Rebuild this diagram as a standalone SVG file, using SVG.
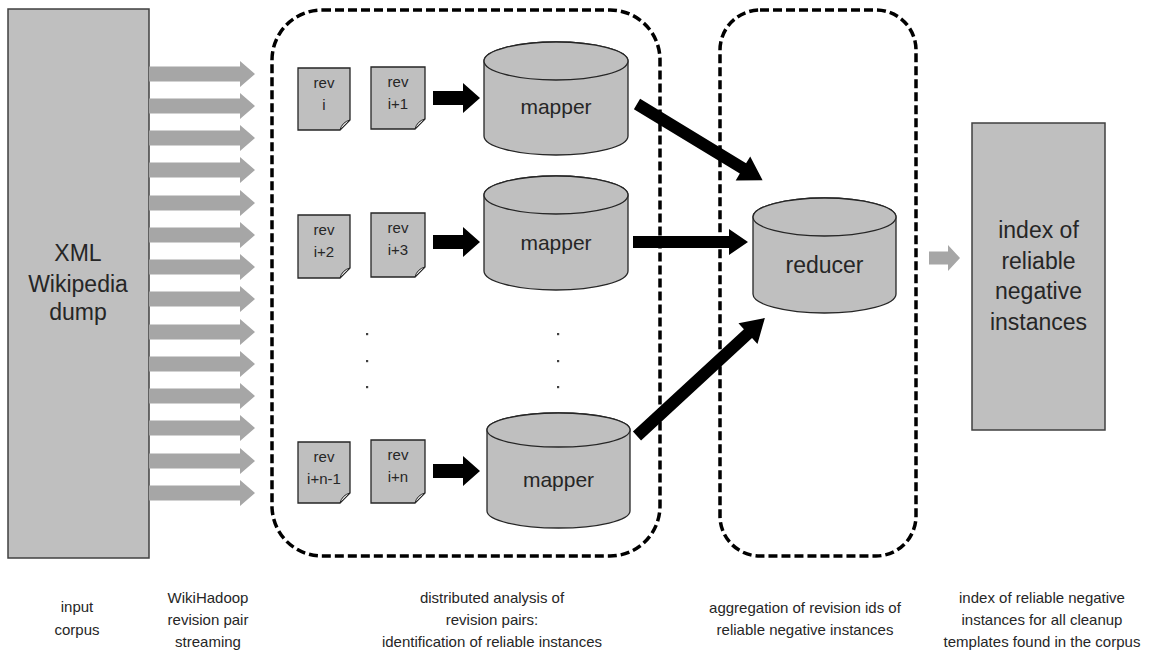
<svg xmlns="http://www.w3.org/2000/svg" width="1165" height="655" viewBox="0 0 1165 655">
  <style>
    text { font-family: "Liberation Sans", Arial, sans-serif; fill: #262626; text-anchor: middle; }
    .box { fill: #bfbfbf; stroke: #404040; stroke-width: 1.5; }
    .cyl { fill: #bfbfbf; stroke: #262626; stroke-width: 1.3; }
    .doc { fill: #bfbfbf; stroke: #262626; stroke-width: 1.3; }
    .fold { fill: #d9d9d9; stroke: #262626; stroke-width: 1; }
    .frame { fill: none; stroke: #000; stroke-width: 3.5; stroke-dasharray: 9 4; }
    .stream { fill: #a6a6a6; }
    .flow { fill: #000; }
    .big { font-size: 23px; }
    .cap { font-size: 21px; }
    .small { font-size: 15px; }
    .label { font-size: 15px; }
  </style>
  <defs>
    <!-- thick gray streaming arrow, origin at shaft start, centred on y=0 -->
    <path id="streamArrow" class="stream" d="M0,-7.5 H91 V-13 L106,0 L91,13 V7.5 H0 Z"/>
    <!-- block arrow from revision pair into mapper -->
    <path id="blockArrow" class="flow" d="M0,-7 H30 V-15 L47,0 L30,15 V7 H0 Z"/>
  </defs>

  <!-- dashed stage frames -->
  <g id="frames">
    <rect id="map-stage" class="frame" x="272" y="10" width="388" height="546" rx="50" ry="50"/>
    <rect id="reduce-stage" class="frame" x="720" y="10" width="196" height="546" rx="40" ry="40"/>
  </g>

  <!-- input corpus -->
  <g id="xml-dump">
    <rect class="box" x="8" y="9" width="141" height="549"/>
    <text class="big" x="78" y="261">XML</text>
    <text class="big" x="78" y="292">Wikipedia</text>
    <text class="big" x="78" y="320">dump</text>
  </g>

  <!-- revision documents -->
  <g id="rev-i">
    <path class="doc" d="M298,68 H350 V120 L340,130 H298 Z"/>
    <path class="fold" d="M350,120 L340,130 Q342,122 350,120 Z"/>
    <text class="small" x="324" y="88">rev</text>
    <text class="small" x="324" y="110">i</text>
  </g>
  <g id="rev-i1">
    <path class="doc" d="M371,67 H425 V119 L415,129 H371 Z"/>
    <path class="fold" d="M425,119 L415,129 Q417,121 425,119 Z"/>
    <text class="small" x="398" y="87">rev</text>
    <text class="small" x="398" y="109">i+1</text>
  </g>
  <g id="rev-i2">
    <path class="doc" d="M298,215 H350 V268 L340,278 H298 Z"/>
    <path class="fold" d="M350,268 L340,278 Q342,270 350,268 Z"/>
    <text class="small" x="324" y="235">rev</text>
    <text class="small" x="324" y="257">i+2</text>
  </g>
  <g id="rev-i3">
    <path class="doc" d="M371,213 H425 V267 L415,277 H371 Z"/>
    <path class="fold" d="M425,267 L415,277 Q417,269 425,267 Z"/>
    <text class="small" x="398" y="233">rev</text>
    <text class="small" x="398" y="255">i+3</text>
  </g>
  <g id="rev-in1">
    <path class="doc" d="M298,442 H350 V493 L340,503 H298 Z"/>
    <path class="fold" d="M350,493 L340,503 Q342,495 350,493 Z"/>
    <text class="small" x="324" y="462">rev</text>
    <text class="small" x="324" y="484">i+n-1</text>
  </g>
  <g id="rev-in">
    <path class="doc" d="M371,440 H425 V493 L415,503 H371 Z"/>
    <path class="fold" d="M425,493 L415,503 Q417,495 425,493 Z"/>
    <text class="small" x="398" y="460">rev</text>
    <text class="small" x="398" y="482">i+n</text>
  </g>

  <!-- ellipsis dots -->
  <g id="ellipsis" fill="#404040">
    <rect x="366" y="333" width="2.2" height="2.2"/>
    <rect x="366" y="360" width="2.2" height="2.2"/>
    <rect x="366" y="386" width="2.2" height="2.2"/>
    <rect x="557" y="333" width="2.2" height="2.2"/>
    <rect x="557" y="360" width="2.2" height="2.2"/>
    <rect x="557" y="386" width="2.2" height="2.2"/>
  </g>

  <!-- mappers -->
  <g id="mapper-1">
    <path class="cyl" d="M484,61 V136 A72,19 0 0 0 628,136 V61 A72,19 0 0 0 484,61 Z"/>
    <ellipse class="cyl" cx="556" cy="61" rx="72" ry="19"/>
    <text class="cap" x="556" y="114">mapper</text>
  </g>
  <g id="mapper-2">
    <path class="cyl" d="M484,195 V271 A72,19 0 0 0 628,271 V195 A72,19 0 0 0 484,195 Z"/>
    <ellipse class="cyl" cx="556" cy="195" rx="72" ry="19"/>
    <text class="cap" x="556" y="250">mapper</text>
  </g>
  <g id="mapper-3">
    <path class="cyl" d="M487,430 V511 A71.5,17 0 0 0 630,511 V430 A71.5,17 0 0 0 487,430 Z"/>
    <ellipse class="cyl" cx="558.5" cy="430" rx="71.5" ry="17"/>
    <text class="cap" x="558.5" y="487">mapper</text>
  </g>

  <!-- reducer -->
  <g id="reducer">
    <path class="cyl" d="M753,217 V294 A71.5,19 0 0 0 896,294 V217 A71.5,19 0 0 0 753,217 Z"/>
    <ellipse class="cyl" cx="824.5" cy="217" rx="71.5" ry="19"/>
    <text class="big" x="824.5" y="273">reducer</text>
  </g>

  <!-- output index -->
  <g id="index">
    <rect class="box" x="972" y="123" width="133" height="307"/>
    <text class="big" x="1038.5" y="238">index of</text>
    <text class="big" x="1038.5" y="269">reliable</text>
    <text class="big" x="1038.5" y="299">negative</text>
    <text class="big" x="1038.5" y="330">instances</text>
  </g>

  <!-- connectors -->
  <g id="connectors">
    <!-- revision pair streaming -->
    <use href="#streamArrow" x="149" y="74"/>
    <use href="#streamArrow" x="149" y="106"/>
    <use href="#streamArrow" x="149" y="138"/>
    <use href="#streamArrow" x="149" y="170"/>
    <use href="#streamArrow" x="149" y="203"/>
    <use href="#streamArrow" x="149" y="235"/>
    <use href="#streamArrow" x="149" y="267"/>
    <use href="#streamArrow" x="149" y="299"/>
    <use href="#streamArrow" x="149" y="332"/>
    <use href="#streamArrow" x="149" y="364"/>
    <use href="#streamArrow" x="149" y="396"/>
    <use href="#streamArrow" x="149" y="428"/>
    <use href="#streamArrow" x="149" y="461"/>
    <use href="#streamArrow" x="149" y="493"/>

    <!-- revision pairs into mappers -->
    <use href="#blockArrow" x="433" y="98"/>
    <use href="#blockArrow" x="433" y="242"/>
    <use href="#blockArrow" x="433" y="471"/>

    <!-- mappers into reducer -->
    <path class="flow" transform="translate(637,104) rotate(31.3)" d="M0,-6 H124 V-14 L147,0 L124,14 V6 H0 Z"/>
    <path class="flow" transform="translate(633,242)" d="M0,-6 H96 V-13 L115,0 L96,13 V6 H0 Z"/>
    <path class="flow" transform="translate(637,436) rotate(-42.7)" d="M0,-6 H151 V-14 L174,0 L151,14 V6 H0 Z"/>

    <!-- reducer output to index -->
    <path class="stream" d="M929,251.5 H948 V245 L960,258 L948,271 V264.5 H929 Z"/>
  </g>

  <!-- stage captions -->
  <g id="captions">
    <text class="label" x="77" y="612">input</text>
    <text class="label" x="77" y="635">corpus</text>
    <text class="label" x="208" y="603">WikiHadoop</text>
    <text class="label" x="208" y="625">revision pair</text>
    <text class="label" x="208" y="647">streaming</text>
    <text class="label" x="492" y="603">distributed analysis of</text>
    <text class="label" x="492" y="625">revision pairs:</text>
    <text class="label" x="492" y="647">identification of reliable instances</text>
    <text class="label" x="805" y="613">aggregation of revision ids of</text>
    <text class="label" x="805" y="635">reliable negative instances</text>
    <text class="label" x="1042" y="603">index of reliable negative</text>
    <text class="label" x="1042" y="625">instances for all cleanup</text>
    <text class="label" x="1042" y="647">templates found in the corpus</text>
  </g>
</svg>
